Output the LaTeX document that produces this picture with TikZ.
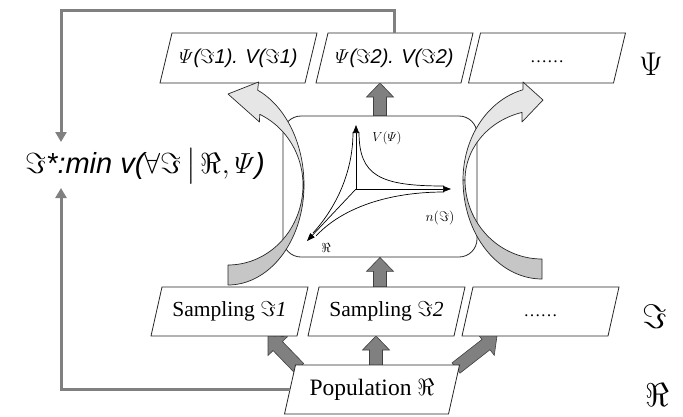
\RequirePackage{fix-cm}
\documentclass[tikz,border=0pt]{standalone}
\usepackage{amsmath,amssymb}
\usepackage{fontspec}
\setmainfont{Liberation Serif}
\setsansfont{Liberation Sans}
\usetikzlibrary{calc,arrows.meta}
\pgfdeclarelayer{bglayer}
\pgfdeclarelayer{arrowlayer}
\pgfdeclarelayer{shapelayer}
\pgfsetlayers{bglayer,arrowlayer,shapelayer,main}
\definecolor{linegray}{RGB}{128,128,128}
\definecolor{blockgray}{RGB}{128,128,128}
\definecolor{lightface}{RGB}{230,230,230}
\definecolor{darkface}{RGB}{198,198,198}
\tikzset{
 boxtext/.style={inner sep=0pt, outer sep=0pt},
 toprow/.style={boxtext, minimum width=145pt, minimum height=50pt},
 midrow/.style={boxtext, minimum width=146pt, minimum height=49pt},
 poprow/.style={boxtext, minimum width=164pt, minimum height=49pt},
 grayline/.style={draw=linegray, line width=3pt},
 grayarrow/.style={grayline, -{Triangle[width=11pt,length=10pt]}},
 blockarr/.style={fill=blockgray, draw=black!75, line width=0.6pt},
 pgramline/.style={draw=black!85, line width=0.8pt, fill=white},
 ribbon/.style={draw=black!85, line width=0.7pt, line join=round},
 axisarrow/.style={line width=0.7pt, -{Triangle[width=6pt,length=8pt]}},
 hyp/.style={line width=0.7pt},
}
\newcommand\blockarrow[2]{%
 \coordinate (bah) at ($(#2)!14pt!(#1)$);
 \draw[blockarr] ($(#1)!6.5pt!90:(#2)$) -- ($(bah)!6.5pt!90:(#2)$) -- ($(bah)!13.5pt!90:(#2)$) -- (#2) -- ($(bah)!13.5pt!-90:(#2)$) -- ($(bah)!6.5pt!-90:(#2)$) -- ($(#1)!6.5pt!-90:(#2)$) -- cycle;}
\newcommand\pgram[2]{%
 \draw[pgramline] ($(#1.south west)+(-#2,0)$) -- ($(#1.south east)+(-#2,0)$) -- ($(#1.north east)+(#2,0)$) -- ($(#1.north west)+(#2,0)$) -- cycle;}
\newcommand\psitext[1]{{\sffamily\itshape\fontsize{20}{24}\selectfont $\varPsi$($\Im$#1). V($\Im$#1)}}
\newcommand\samptext[1]{{\fontsize{21.5}{25}\selectfont Sampling $\Im$\textit{#1}}}
\newcommand\dotstext[1]{\raisebox{#1}[0pt][0pt]{\fontsize{17}{20}\selectfont ……}}
\begin{document}
\begin{tikzpicture}[x=1pt,y=-1pt]
\useasboundingbox (0,0) rectangle (683,416);
\begin{pgfonlayer}{bglayer}
\fill[white] (0,0) rectangle (683,416);
\end{pgfonlayer}

% ---- text nodes
\node[toprow] (psi1) at (238.5,58) {\psitext{1}};
\node[toprow] (psi2) at (394.5,58) {\psitext{2}};
\node[toprow] (psi3) at (547,58) {\dotstext{-4pt}};
\node[midrow] (samp1) at (229.5,311.5) {\samptext{1}};
\node[midrow] (samp2) at (386.5,311.5) {\samptext{2}};
\node[midrow] (samp3) at (540.5,311.5) {\dotstext{-5pt}};
\node[poprow] (pop) at (372,389.5) {{\fontsize{23.5}{27}\selectfont Population $\Re$}};

\node (lpsi) at (651,64) {\fontsize{33}{36}\selectfont$\Psi$};
\node (lim) at (655,317) {\fontsize{34}{38}\selectfont$\Im$};
\node (lre) at (657,395) {\fontsize{33}{36}\selectfont$\Re$};

\node (formula) at (145,166) {{\sffamily\itshape\fontsize{29}{33}\selectfont $\Im$*:min v($\forall\Im\,\big|\,\Re,\varPsi$)}};

\node[draw=black!85, line width=0.8pt, rounded corners=18pt, minimum width=194pt, minimum height=141pt] (core) at (380,186.5) {};

% ---- parallelograms
\begin{pgfonlayer}{shapelayer}
 \pgram{psi1}{6}\pgram{psi2}{6}\pgram{psi3}{6}
 \pgram{samp1}{5.5}\pgram{samp2}{5.5}\pgram{samp3}{5.5}
 \pgram{pop}{5.5}
\end{pgfonlayer}

% ---- block arrows
\begin{pgfonlayer}{arrowlayer}
 \coordinate (ta1) at (core.north);
 \coordinate (ta2) at (core.north |- psi2.south);
 \blockarrow{ta1}{ta2}
 \coordinate (ma1) at (core.south |- samp2.north);
 \coordinate (ma2) at (core.south);
 \blockarrow{ma1}{ma2}
 \coordinate (pa1) at ($(pop.north)+(4,3)$);
 \coordinate (pa2) at (pa1 |- samp2.south);
 \blockarrow{pa1}{pa2}
 \coordinate (la1) at ($(pop.north west)+(9,3)$);
 \coordinate (la2) at ($(samp1.south)+(38.5,0)$);
 \blockarrow{la1}{la2}
 \coordinate (ra1) at ($(pop.north east)+(2,3)$);
 \coordinate (ra2) at ($(samp3.south)+(-43.5,0)$);
 \blockarrow{ra1}{ra2}
\end{pgfonlayer}

% ---- gray feedback lines
\coordinate (topy) at (61,10);
\coordinate (fin) at (61,142);
\coordinate (fin2) at (61,188);
\draw[grayarrow] (psi2.north) |- (topy) -- (fin);
\draw[grayarrow] (pop.west) -| (fin2);

% ---- axes inside core
\coordinate (ax0) at (356,189);
\coordinate (axv) at (356,125);
\coordinate (axn) at (451,189);
\coordinate (axr) at (307,241);
\draw[axisarrow] (ax0) -- (axv);
\draw[axisarrow] (ax0) -- (axn);
\draw[axisarrow] (ax0) -- (axr);
\draw[hyp] (353,132) .. controls (353,176) and (333,211) .. (313,233);
\draw[hyp] (359,132) .. controls (359,176) and (380,186) .. (444,186);
\draw[hyp] (444,192) .. controls (390,192) and (343,207) .. (316,236);
\node (lv) at (387,138) {\fontsize{13}{15}\selectfont$V(\varPsi)$};
\node (ln) at (440,218) {\fontsize{14}{16}\selectfont$n(\Im)$};
\node (lr) at (326,248) {\fontsize{13}{15}\selectfont$\Re$};

% ---- curved ribbon arrows
\filldraw[ribbon, fill=darkface] plot[domain=0:90, samples=40, variable=\t] ({228+76*cos(\t)},{185+100*sin(\t)}) -- plot[domain=90:0, samples=40, variable=\t] ({228+75*cos(\t)},{185+80*sin(\t)}) -- cycle;
\filldraw[ribbon, fill=lightface] plot[domain=-67:0, samples=40, variable=\t] ({228+76*cos(\t)},{185+103*sin(\t)}) -- plot[domain=0:-65, samples=40, variable=\t] ({228+75*cos(\t)},{185+78*sin(\t)}) -- (259.5,122) -- (228,94) -- (258.5,82) -- cycle;

\filldraw[ribbon, fill=darkface] plot[domain=180:90, samples=40, variable=\t] ({542+79*cos(\t)},{180+99*sin(\t)}) -- plot[domain=90:180, samples=40, variable=\t] ({542+77*cos(\t)},{180+79*sin(\t)}) -- cycle;
\filldraw[ribbon, fill=lightface] plot[domain=256:180, samples=40, variable=\t] ({542+79*cos(\t)},{180+93*sin(\t)}) -- plot[domain=180:255, samples=40, variable=\t] ({542+77*cos(\t)},{180+70*sin(\t)}) -- (522,122) -- (543,100) -- (523,82) -- cycle;
\end{tikzpicture}
\end{document}
